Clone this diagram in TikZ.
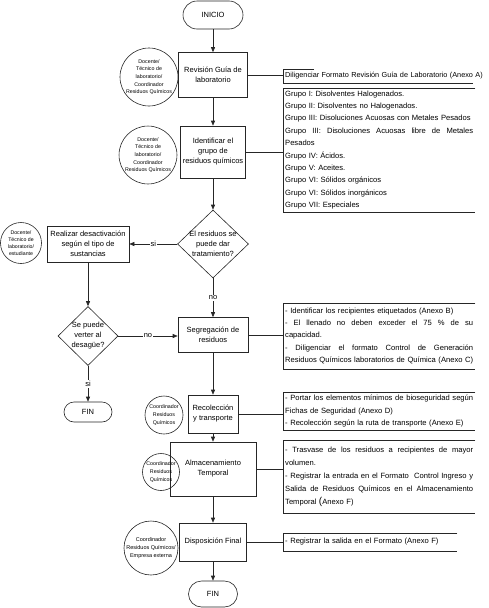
\documentclass[tikz,border=0pt]{standalone}
\usepackage{fontspec}
\setmainfont{Liberation Sans}
\usetikzlibrary{shapes.geometric,arrows.meta}
\tikzset{
 ln/.style={draw=black!85, line width=0.6pt},
 stepbox/.style={ln, rectangle, inner sep=1pt, align=center, font=\fontsize{7.5}{10}\selectfont},
 pill/.style={ln, rectangle, rounded corners=#1, inner sep=1pt, align=center, font=\fontsize{7.5}{10}\selectfont},
 role/.style={ln, circle, inner sep=0pt, align=center},
 rolefont/.style={font=\fontsize{5.3}{7.6}\selectfont},
 smallrole/.style={font=\fontsize{5.2}{6.8}\selectfont},
 decision/.style={ln, diamond, inner sep=0pt},
 dtext/.style={align=center, inner sep=0pt, font=\fontsize{7.5}{10}\selectfont},
 annot/.style={anchor=west, inner xsep=2pt, inner ysep=2pt, text width=188pt, align=left, font=\fontsize{7.6}{12.4}\selectfont},
 flow/.style={ln, -{Triangle[length=5pt,width=4pt]}},
 link/.style={ln},
 lbl/.style={fill=white, inner sep=1pt, font=\fontsize{7.5}{9}\selectfont},
}
\newcommand{\jline}[1]{\leavevmode{\spaceskip=0.28em plus 2em\xspaceskip=0.28em plus 2em\hbox to 188pt{#1}}}
\begin{document}
\begin{tikzpicture}[x=1pt,y=-1pt]
\useasboundingbox (0,0) rectangle (488,608);
% main column
\node[pill=14pt, minimum width=60pt, minimum height=28pt] (inicio) at (213,15) {INICIO};
\node[stepbox, minimum width=69pt, minimum height=45pt] (rev) at (213,75) {Revisión Guía de\\laboratorio};
\node[stepbox, minimum width=65pt, minimum height=52pt] (ident) at (213,152) {Identificar el\\grupo de\\residuos químicos};
\node[decision, minimum width=71pt, minimum height=68pt] (d1) at (213,244) {};
\node[dtext] (d1t) at (213,244) {El residuos se\\puede dar\\tratamiento?};
\node[stepbox, minimum width=82pt, minimum height=36pt] (desact) at (88,244) {Realizar desactivación\\según el tipo de\\sustancias};
\node[decision, minimum width=60pt, minimum height=59pt] (d2) at (88,336) {};
\node[dtext] (d2t) at (88,336) {Se puede\\verter al\\desagüe?};
\node[pill=10pt, minimum width=48pt, minimum height=20pt] (fin1) at (88,412) {FIN};
\node[stepbox, minimum width=70pt, minimum height=35pt] (seg) at (213,335) {Segregación de\\residuos};
\node[stepbox, minimum width=50pt, minimum height=38pt] (rec) at (213,414) {Recolección\\y transporte};
\node[stepbox, minimum width=86pt, minimum height=54pt] (alm) at (213,469) {Almacenamiento\\Temporal};
\node[stepbox, minimum width=67pt, minimum height=38pt] (disp) at (213,542) {Disposición Final};
\node[pill=13pt, minimum width=49pt, minimum height=26pt] (fin2) at (213,594) {FIN};
% roles
\node[role, rolefont, minimum size=58pt] (r1) at (149,77) {Docente/\\Técnico de\\laboratorio/\\Coordinador\\Residuos Químicos};
\node[role, rolefont, minimum size=56pt] (r2) at (148,155) {Docente/\\Técnico de\\laboratorio/\\Coordinador\\Residuos Químicos};
\node[role, smallrole, minimum size=41pt] (r3) at (21,243) {Docente/\\Técnico de\\laboratorio/\\estudiante};
\node[role, rolefont, minimum size=38pt] (r4) at (164,415) {Coordinador\\Residuos\\Químicos};
\node[role, rolefont, minimum size=37pt] (r5) at (161,472) {Coordinador\\Residuos\\Químicos};
\node[role, font=\fontsize{5.5}{7.6}\selectfont, minimum size=54pt] (r6) at (151,548) {Coordinador\\Residuos Químicos/\\Empresa externa};
% annotations
\node[annot, text width=215pt, minimum height=14pt, font=\fontsize{7.3}{12.4}\selectfont] (a0) at (283,76) {Diligenciar Formato Revisión Guía de Laboratorio (Anexo A)};
\node[annot, minimum height=124pt] (a1) at (283,150) {Grupo I: Disolventes Halogenados.\\
Grupo II: Disolventes no Halogenados.\\
Grupo III: Disoluciones Acuosas con Metales Pesados\\
\jline{Grupo III: Disoluciones Acuosas libre de Metales}\\
Pesados\\
Grupo IV: Ácidos.\\
Grupo V: Aceites.\\
Grupo VI: Sólidos orgánicos\\
Grupo VI: Sólidos inorgánicos\\
Grupo VII: Especiales};
\node[annot, minimum height=66pt, font=\fontsize{7.6}{12.25}\selectfont] (a2) at (283,336) {- Identificar los recipientes etiquetados (Anexo B)\\
\jline{- El llenado no deben exceder el 75 \% de su}\\
capacidad.\\
\jline{- Diligenciar el formato Control de Generación}\\
\jline{Residuos Químicos laboratorios de Química (Anexo C)}};
\node[annot, minimum height=38pt] (a3) at (283,411) {\jline{- Portar los elementos mínimos de bioseguridad según}\\
Fichas de Seguridad (Anexo D)\\
- Recolección según la ruta de transporte (Anexo E)};
\node[annot, minimum height=73pt, font=\fontsize{7.6}{13}\selectfont] (a4) at (283,476.5) {\jline{- Trasvase de los residuos a recipientes de mayor}\\
volumen.\\
\jline{- Registrar la entrada en el Formato \ Control Ingreso y}\\
\jline{Salida de Residuos Químicos en el Almacenamiento}\\
Temporal {\fontsize{10}{10}\selectfont(}Anexo F)};
\node[annot, text width=170pt, minimum height=18pt] (a5) at (283,542) {- Registrar la salida en el Formato (Anexo F)};
% brackets (open on the right)
\draw[link] ([xshift=31pt]a0.north west) -- (a0.north west) -- (a0.south west) -- ([xshift=190pt]a0.south west);
\draw[link] (a1.north east) -- (a1.north west) -- (a1.south west) -- (a1.south east);
\draw[link] (a2.north east) -- (a2.north west) -- (a2.south west) -- (a2.south east);
\draw[link] (a3.north east) -- (a3.north west) -- (a3.south west) -- (a3.south east);
\draw[link] (a4.north east) -- (a4.north west) -- (a4.south west) -- (a4.south east);
\draw[link] (a5.north east) -- (a5.north west) -- (a5.south west) -- (a5.south east);
% links to annotations
\draw[link] (rev.east) -- (rev.east -| a0.west);
\draw[link] (ident.east) -- (ident.east -| a1.west);
\draw[link] (seg.east) -- (seg.east -| a2.west);
\draw[link] (rec.east) -- (rec.east -| a3.west);
\draw[link] (alm.east) -- (alm.east -| a4.west);
\draw[link] (disp.east) -- (disp.east -| a5.west);
% flow
\draw[flow] (inicio) -- (rev);
\draw[flow] (rev) -- (ident);
\draw[flow] (ident) -- (d1);
\draw[flow] (d1.west) -- node[lbl]{si} (desact.east);
\draw[flow] (d1.south) -- node[lbl]{no} (seg.north);
\draw[flow] (desact.south) -- (d2.north);
\draw[flow] (d2.east) -- node[lbl]{no} (d2.east -| seg.west);
\draw[flow] (d2.south) -- node[lbl]{si} (fin1.north);
\draw[flow] (seg) -- (rec);
\draw[flow] (rec) -- (alm);
\draw[flow] (alm) -- (disp);
\draw[flow] (disp) -- (fin2);
\end{tikzpicture}
\end{document}
